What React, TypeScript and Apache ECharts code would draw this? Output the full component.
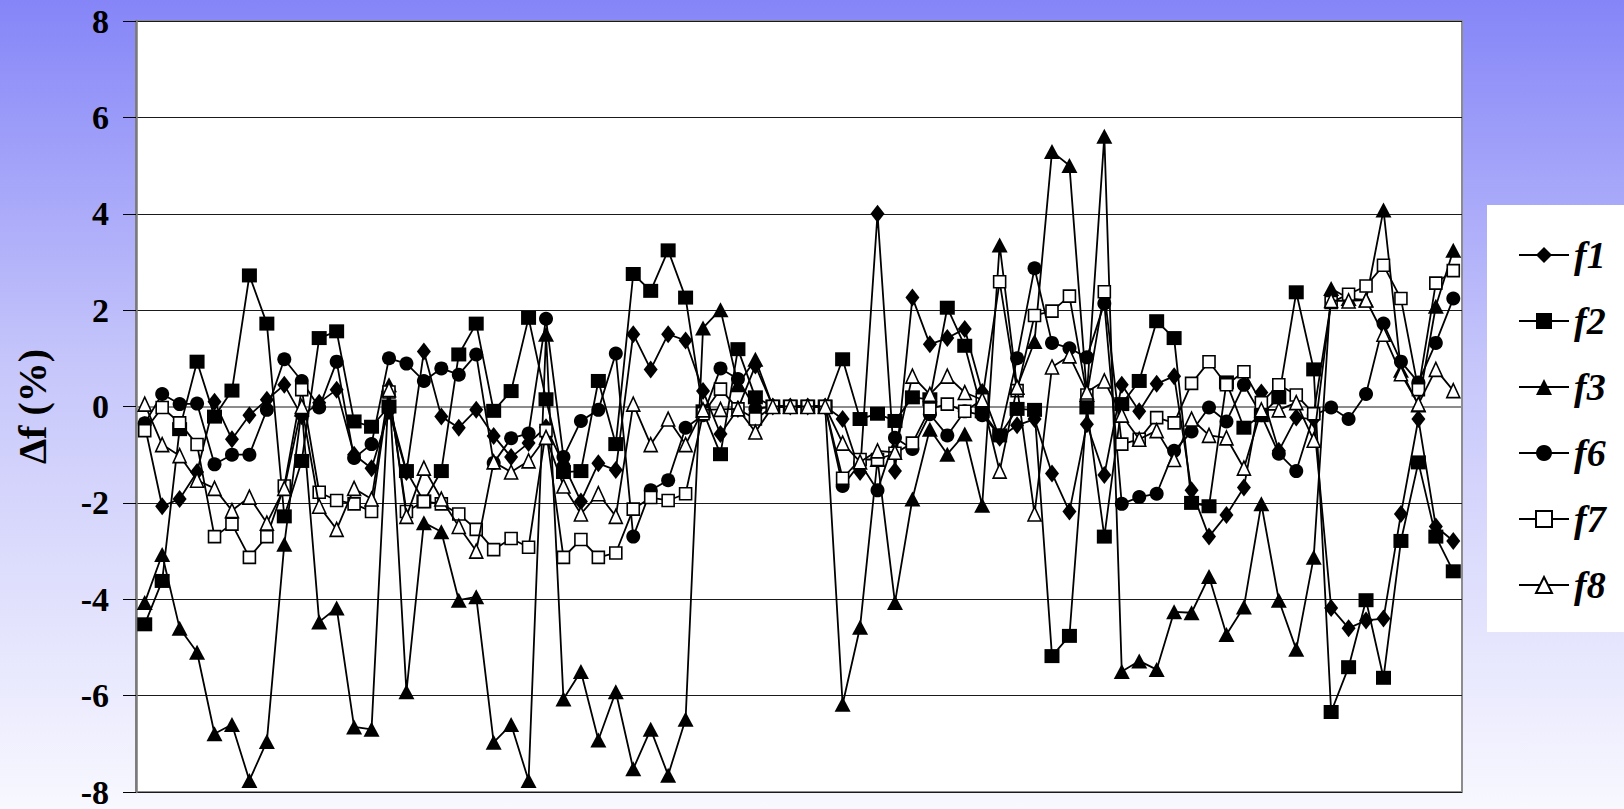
import React, { useEffect, useRef } from "react";
import * as echarts from "echarts";

const categories = Array.from({ length: 76 }, (_, i) => String(i + 1));
const yTicks = [-8, -6, -4, -2, 0, 2, 4, 6, 8];

const f1 = [
  -0.39, -2.07, -1.92, -1.36, 0.1, -0.68, -0.18, 0.14, 0.45, -0.2,
  0.08, 0.35, -1.0, -1.28, -0.1, -1.36, 1.14, -0.21, -0.44, -0.07,
  -0.61, -1.05, -0.76, -0.43, -1.2, -1.97, -1.18, -1.32, 1.5, 0.77,
  1.5, 1.37, 0.32, -0.57, -0.05, 0.85, 0, 0, 0, 0,
  -0.26, -1.36, 4.0, -1.34, 2.26, 1.29, 1.42, 1.61, 0.3, -0.65,
  -0.39, -0.26, -1.39, -2.18, -0.37, -1.42, 0.45, -0.1, 0.47, 0.63,
  -1.74, -2.7, -2.25, -1.68, 0.29, -0.92, -0.23, -0.26, -4.18, -4.6,
  -4.44, -4.4, -2.23, -0.26, -2.49, -2.79,
];
const f2 = [
  -4.52, -3.62, -0.47, 0.93, -0.21, 0.33, 2.72, 1.72, -2.28, -1.13,
  1.42, 1.56, -0.31, -0.42, 0.0, -1.34, -1.97, -1.34, 1.08, 1.72,
  -0.09, 0.32, 1.84, 0.15, -1.36, -1.34, 0.53, -0.78, 2.75, 2.4,
  3.24, 2.26, -0.1, -0.99, 1.19, 0.19, 0, 0, 0, 0,
  0.98, -0.26, -0.15, -0.3, 0.19, 0.15, 2.05, 1.26, -0.1, -0.6,
  -0.05, -0.07, -5.18, -4.76, -0.02, -2.7, 0.05, 0.53, 1.77, 1.42,
  -2.0, -2.07, 0.5, -0.44, -0.18, 0.19, 2.37, 0.77, -6.34, -5.41,
  -4.02, -5.63, -2.79, -1.16, -2.7, -3.42,
];
const f3 = [
  -4.07, -3.07, -4.6, -5.1, -6.79, -6.6, -7.76, -6.95, -2.86, -0.05,
  -4.47, -4.18, -6.65, -6.7, 0.45, -5.92, -2.41, -2.6, -4.02, -3.95,
  -6.97, -6.6, -7.76, 1.5, -6.07, -5.5, -6.92, -5.92, -7.52, -6.7,
  -7.65, -6.49, 1.63, 2.01, 0.45, 0.98, 0, 0, 0, 0,
  -6.18, -4.58, -1.1, -4.07, -1.92, -0.47, -0.99, -0.57, -2.05, 3.35,
  0.4, 1.35, 5.29, 5.0, 0.25, 5.61, -5.5, -5.28, -5.46, -4.26,
  -4.28, -3.53, -4.73, -4.16, -2.02, -4.02, -5.04, -3.13, 2.45, 2.24,
  2.21, 4.08, 0.75, 0.03, 2.08, 3.24,
];
const f6 = [
  -0.35, 0.26, 0.05, 0.06, -1.2, -1.0, -1.0, -0.07, 0.98, 0.53,
  -0.02, 0.93, -1.07, -0.78, 1.0, 0.89, 0.53, 0.79, 0.66, 1.08,
  -1.17, -0.66, -0.56, 1.82, -1.05, -0.3, -0.07, 1.1, -2.7, -1.74,
  -1.53, -0.44, -0.18, 0.79, 0.57, -0.05, 0, 0, 0, 0,
  -1.65, -1.18, -1.74, -0.65, -0.88, -0.16, -0.6, -0.1, -0.18, -0.6,
  1.0, 2.87, 1.32, 1.21, 1.02, 2.14, -2.02, -1.88, -1.81, -0.92,
  -0.52, -0.02, -0.31, 0.45, -0.18, -0.98, -1.34, -0.18, -0.02, -0.26,
  0.26, 1.72, 0.93, 0.5, 1.32, 2.24,
];
const f7 = [
  -0.5, -0.02, -0.34, -0.79, -2.7, -2.44, -3.13, -2.7, -1.65, 0.35,
  -1.78, -1.95, -2.02, -2.18, 0.3, -2.18, -1.97, -2.02, -2.23, -2.55,
  -2.97, -2.74, -2.92, -0.5, -3.13, -2.76, -3.13, -3.04, -2.13, -1.89,
  -1.95, -1.81, -0.15, 0.36, -0.05, -0.26, 0, 0, 0, 0,
  -1.49, -1.1, -1.1, -0.97, -0.76, -0.05, 0.05, -0.1, 0.14, 2.59,
  0.33, 1.89, 1.98, 2.29, 0.24, 2.38, -0.78, -0.68, -0.23, -0.34,
  0.48, 0.93, 0.45, 0.72, 0.08, 0.45, 0.24, -0.15, 2.16, 2.33,
  2.5, 2.93, 2.24, 0.35, 2.56, 2.82,
];
const f8 = [
  0.05, -0.79, -1.02, -1.53, -1.7, -2.16, -1.88, -2.42, -1.7, 0.0,
  -2.07, -2.55, -1.7, -1.92, 0.35, -2.28, -1.28, -1.92, -2.49, -3.0,
  -1.15, -1.36, -1.13, -0.64, -1.65, -2.23, -1.81, -2.28, 0.05, -0.79,
  -0.26, -0.79, -0.07, -0.06, -0.05, -0.53, 0, 0, 0, 0,
  -0.76, -1.15, -0.92, -0.95, 0.63, 0.25, 0.63, 0.29, 0.14, -1.34,
  0.4, -2.23, 0.82, 1.05, 0.3, 0.53, -0.18, -0.68, -0.5, -1.1,
  -0.26, -0.6, -0.65, -1.28, -0.07, -0.07, 0.08, -0.7, 2.2, 2.19,
  2.21, 1.5, 0.68, 0.05, 0.77, 0.33,
];

const seriesNames = ["f1", "f2", "f3", "f6", "f7", "f8"];
const seriesData = [f1, f2, f3, f6, f7, f8];
const symbols = ["diamond", "rect", "triangle", "circle", "rect", "triangle"];
const symbolSizes: any[] = [[14, 18], [15, 14], [16, 15], [14, 14], [12, 12], [13, 14]];
const hollow = [false, false, false, false, true, true];

const SERIF = "'Liberation Serif', 'Times New Roman', serif";

export default function App() {
  const ref = useRef<HTMLDivElement>(null);
  useEffect(() => {
    if (!ref.current) return;
    const chart = echarts.init(ref.current, undefined, { renderer: "svg" });
    const series = seriesNames.map((name, k) => ({
      name,
      type: "line",
      data: seriesData[k],
      symbol: symbols[k],
      symbolSize: symbolSizes[k],
      showAllSymbol: true,
      lineStyle: { color: "#000", width: 1.8 },
      itemStyle: hollow[k]
        ? { color: "#fff", borderColor: "#000", borderWidth: 1.6 }
        : { color: "#000", borderColor: "#000", borderWidth: 0 },
      emphasis: { disabled: true },
      z: 2 + k,
    }));
    chart.setOption({
      animation: false,
      backgroundColor: "transparent",
      grid: {
        left: 136,
        right: 162,
        top: 21,
        bottom: 15,
        show: true,
        backgroundColor: "#fff",
        borderColor: "#8c8c8c",
        borderWidth: 2,
      },
      graphic: [
        {
          type: "rect",
          z: 0,
          shape: { x: 1487, y: 205, width: 137, height: 427 },
          style: { fill: "#fff" },
        },
      ],
      legend: {
        orient: "vertical",
        left: 1513,
        top: 230,
        itemWidth: 50,
        itemHeight: 20,
        itemGap: 26,
        data: seriesNames.map((name) => ({ name, itemStyle: undefined })),
        textStyle: {
          fontFamily: SERIF,
          fontWeight: "bold",
          fontStyle: "italic",
          fontSize: 38,
          color: "#000",
          lineHeight: 40,
        },
        z: 10,
      },
      xAxis: {
        type: "category",
        data: categories,
        boundaryGap: true,
        axisLabel: { show: false },
        axisTick: { show: false },
        axisLine: { show: true, lineStyle: { color: "#8c8c8c", width: 2 } },
        splitLine: { show: false },
      },
      yAxis: {
        type: "value",
        min: yTicks[0],
        max: yTicks[yTicks.length - 1],
        interval: yTicks[1] - yTicks[0],
        name: "Δf (%)",
        nameLocation: "middle",
        nameGap: 84,
        nameTextStyle: {
          fontFamily: SERIF,
          fontWeight: "bold",
          fontSize: 40,
          color: "#000",
        },
        axisLine: { show: true, lineStyle: { color: "#7a7a7a", width: 2.5 } },
        axisTick: {
          show: true,
          inside: false,
          length: 13,
          lineStyle: { color: "#000", width: 1 },
        },
        axisLabel: {
          margin: 27,
          fontFamily: SERIF,
          fontWeight: "bold",
          fontSize: 34,
          color: "#000",
        },
        splitLine: { show: true, lineStyle: { color: "#1a1a1a", width: 1 } },
      },
      series,
    });
    return () => chart.dispose();
  }, []);
  return (
    <div
      style={{
        position: "fixed",
        left: 0,
        top: 0,
        width: 1624,
        height: 809,
        background: "linear-gradient(to bottom, #8585f8 0%, #c6c6fb 45%, #f8f8ff 100%)",
      }}
    >
      <div ref={ref} style={{ width: 1624, height: 809 }} />
    </div>
  );
}
